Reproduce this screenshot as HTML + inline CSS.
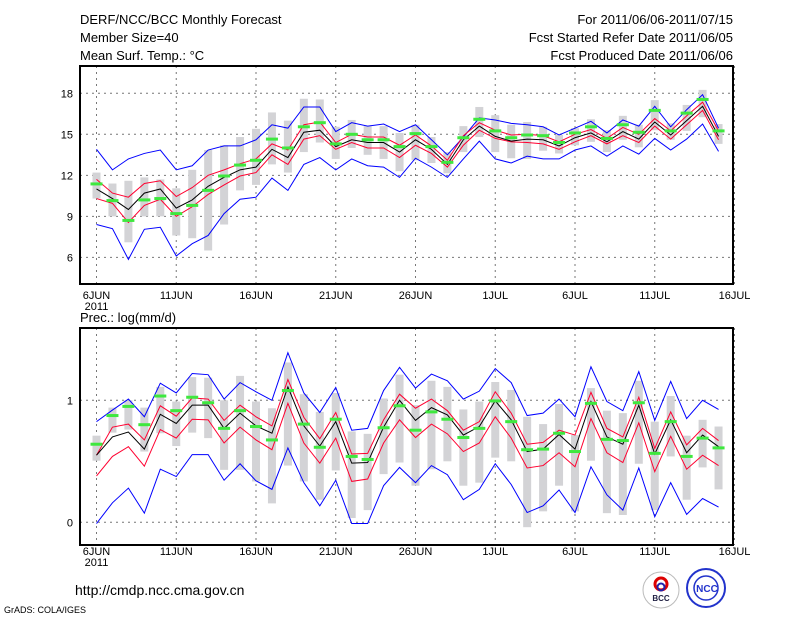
<!DOCTYPE html>
<html><head><meta charset="utf-8"><style>
html,body{margin:0;padding:0;background:#fff;}
svg{display:block;font-family:"Liberation Sans",sans-serif;}
</style></head><body>
<svg id="chart" width="800" height="618" viewBox="0 0 800 618">
<g font-size="13" fill="#000">
<text x="80" y="24">DERF/NCC/BCC Monthly Forecast</text>
<text x="80" y="42">Member Size=40</text>
<text x="80" y="60">Mean Surf. Temp.: °C</text>
<text x="733" y="24" text-anchor="end">For 2011/06/06-2011/07/15</text>
<text x="733" y="42" text-anchor="end">Fcst Started Refer Date 2011/06/05</text>
<text x="733" y="60" text-anchor="end">Fcst Produced Date 2011/06/06</text>
<text x="80" y="322">Prec.: log(mm/d)</text>
<text x="75" y="595" font-size="14">http://cmdp.ncc.cma.gov.cn</text>
<text x="4" y="613" font-size="9">GrADS: COLA/IGES</text>
</g>
<g>
<circle cx="661" cy="590" r="18" fill="#fff" stroke="#bbb" stroke-width="1"/>
<circle cx="661" cy="584" r="6" fill="none" stroke="#d00" stroke-width="3"/>
<circle cx="661" cy="587" r="3.5" fill="none" stroke="#22a" stroke-width="2"/>
<text x="661" y="601" font-size="8" font-weight="bold" text-anchor="middle" fill="#224">BCC</text>
</g>
<g>
<circle cx="706" cy="588" r="19" fill="#fff" stroke="#23c" stroke-width="2"/>
<circle cx="706" cy="588" r="12" fill="none" stroke="#23c" stroke-width="1.5"/>
<text x="707" y="592" font-size="10" font-weight="bold" text-anchor="middle" fill="#23c">NCC</text>
</g>
<g id="plots"></g>
</svg>
<script>
const days = ["6JUN","11JUN","16JUN","21JUN","26JUN","1JUL","6JUL","11JUL","16JUL"];
const tTicks = [18,15,12,9,6];
const tBlueHi = [13.9,12.4,13.2,13.6,13.85,12.4,12.7,13.85,14.15,14.15,14.6,15.7,15.45,17.0,17.0,15.2,15.85,15.6,15.75,15.2,15.7,14.6,13.5,14.8,16.2,16.05,15.8,15.7,15.55,14.95,15.45,15.95,15.1,16.05,15.6,17.05,15.55,16.8,17.9,15.45];
const tBlueLo = [8.4,8.1,5.85,8.05,8.2,6.1,7.0,7.6,9.2,10.25,10.4,11.8,10.9,12.8,13.3,12.4,13.2,12.7,12.6,11.85,13.25,12.6,11.85,13.2,14.5,13.2,12.9,13.4,13.2,13.2,13.85,14.15,13.4,14.15,13.55,14.7,13.85,14.65,15.75,13.75];
const tRedHi = [11.7,10.7,10.4,11.4,11.6,10.45,11.1,12.0,12.4,12.85,13.2,14.3,13.85,15.7,15.9,14.4,15.0,14.8,14.8,14.2,14.95,14.15,13.1,14.9,15.85,15.3,14.95,15.0,14.9,14.45,15.0,15.35,14.7,15.5,15.0,16.15,15.25,16.35,17.35,15.25];
const tRedLo = [10.3,9.95,8.55,9.8,10.25,9.0,9.7,10.6,11.3,11.95,12.2,13.5,12.8,14.65,14.9,13.9,14.4,14.0,14.0,13.3,14.2,13.6,12.6,14.2,15.3,14.7,14.45,14.4,14.3,13.9,14.45,14.9,14.3,14.9,14.4,15.6,14.65,15.7,16.75,14.6];
const tMean = [11.0,10.3,9.5,10.7,11.0,9.6,10.2,11.2,11.85,12.4,12.6,13.9,13.3,15.15,15.3,14.1,14.6,14.4,14.4,13.7,14.6,13.9,12.8,14.6,15.6,14.85,14.5,14.65,14.6,14.15,14.75,15.1,14.45,15.2,14.65,15.9,14.95,16.0,17.05,14.85];
const tObs = [11.37,10.15,8.7,10.2,10.3,9.2,9.8,10.9,11.95,12.75,13.1,14.65,14.0,15.55,15.85,14.3,15.0,14.6,14.6,14.1,15.05,14.1,12.95,14.75,16.1,15.25,14.75,14.95,14.9,14.4,15.1,15.55,14.7,15.7,15.15,16.75,15.25,16.55,17.55,15.25];
const tBarHi = [12.2,11.4,11.6,11.85,11.7,11.05,12.4,13.85,14.2,14.8,15.4,16.6,16.0,17.6,17.55,15.55,16.05,15.6,15.6,15.1,15.7,14.8,13.7,15.6,17.0,16.4,15.7,15.9,15.55,14.95,15.45,16.1,15.3,16.35,15.7,17.5,15.8,17.15,18.25,15.75];
const tBarLo = [10.3,9.0,7.1,9.0,9.0,7.6,7.4,6.5,8.4,10.9,11.3,12.8,12.2,13.7,14.4,13.2,14.0,13.5,13.2,12.3,13.1,12.9,12.15,13.7,14.8,13.7,13.25,13.2,13.8,13.6,14.2,14.45,13.7,14.6,14.05,15.3,14.6,15.25,16.25,14.3];
const pTicks = [1,0];
const pBlueHi = [0.825,0.92,1.01,0.865,1.14,1.06,1.22,1.21,1.01,1.145,1.07,1.0,1.39,1.06,0.9,1.105,0.755,0.77,1.08,1.27,1.1,1.215,1.16,1.01,1.075,1.26,1.145,0.875,0.895,1.01,0.865,1.275,0.99,0.915,1.235,0.835,1.155,0.85,1.0,0.925];
const pBlueLo = [-0.01,0.16,0.28,0.075,0.435,0.375,0.555,0.555,0.345,0.48,0.34,0.27,0.61,0.325,0.135,0.345,-0.01,-0.01,0.30,0.45,0.325,0.465,0.39,0.185,0.27,0.48,0.31,0.08,0.135,0.265,0.08,0.455,0.225,0.10,0.445,0.045,0.325,0.065,0.195,0.125];
const pRedHi = [0.55,0.78,0.805,0.675,0.955,0.87,1.02,1.01,0.835,0.96,0.865,0.79,1.17,0.86,0.685,0.9,0.56,0.565,0.84,1.05,0.935,1.01,0.915,0.755,0.825,1.07,0.895,0.64,0.655,0.755,0.715,1.065,0.77,0.70,1.025,0.605,0.905,0.635,0.77,0.67];
const pRedLo = [0.38,0.54,0.62,0.46,0.76,0.69,0.845,0.84,0.65,0.78,0.675,0.595,0.975,0.65,0.485,0.69,0.335,0.355,0.65,0.84,0.695,0.805,0.725,0.58,0.65,0.865,0.69,0.445,0.465,0.57,0.455,0.85,0.57,0.49,0.815,0.415,0.705,0.435,0.55,0.465];
const pMean = [0.55,0.70,0.74,0.60,0.885,0.81,0.96,0.96,0.77,0.895,0.79,0.73,1.11,0.79,0.625,0.825,0.485,0.49,0.78,1.0,0.835,0.94,0.88,0.715,0.785,0.995,0.84,0.58,0.60,0.72,0.60,0.99,0.70,0.64,0.96,0.56,0.84,0.57,0.715,0.62];
const pObs = [0.64,0.875,0.95,0.80,1.035,0.915,1.025,0.98,0.77,0.915,0.785,0.675,1.08,0.805,0.615,0.845,0.54,0.515,0.775,0.955,0.755,0.905,0.845,0.695,0.77,0.995,0.825,0.595,0.60,0.73,0.58,0.975,0.68,0.67,0.98,0.565,0.825,0.54,0.69,0.61];
const pBarHi = [0.71,0.94,1.0,0.94,1.11,0.99,1.19,1.185,1.0,1.2,0.99,0.935,1.31,1.05,0.905,1.06,0.745,0.725,1.015,1.21,0.96,1.16,1.11,0.925,0.99,1.15,1.085,0.865,0.805,0.97,0.715,1.1,0.915,0.895,1.16,0.825,1.035,0.71,0.84,0.785];
const pBarLo = [0.505,0.735,0.76,0.58,0.73,0.625,0.735,0.69,0.43,0.43,0.335,0.155,0.465,0.335,0.185,0.425,0.035,0.10,0.395,0.49,0.30,0.435,0.50,0.30,0.325,0.53,0.50,-0.04,0.09,0.30,0.09,0.505,0.075,0.06,0.48,0.10,0.54,0.185,0.45,0.27];

const NS='http://www.w3.org/2000/svg';
const root=document.getElementById('plots');
const X0=96.5, DX=15.95, PL=80, PR=733;
function xAt(i){return X0+i*DX;}
function mk(tag,attrs,parent){const e=document.createElementNS(NS,tag);for(const k in attrs)e.setAttribute(k,attrs[k]);(parent||root).appendChild(e);return e;}

function panel(name,top,bottom,yf,ticks,bhi,blo,rhi,rlo,mean,obs,barhi,barlo,labY){
  const g=mk('g',{});
  
  
  for(let k=0;k<days.length;k++){
    const x=xAt(k*5);
    const l=mk('line',{x1:x,x2:x,y1:top,y2:bottom,stroke:'#777','stroke-dasharray':'2,4','stroke-width':1},g);
    
    
    const t=mk('text',{x:x,y:labY,'font-size':11,'text-anchor':'middle'},g);
    
    
    t.textContent=days[k];
  }
  const yr=mk('text',{x:xAt(0),y:labY+11,'font-size':11,'text-anchor':'middle'},g);
  
  
  yr.textContent='2011';
  ticks.forEach(v=>{
    const y=yf(v);
    const l=mk('line',{x1:PL,x2:PR,y1:y,y2:y,stroke:'#777','stroke-dasharray':'2,4','stroke-width':1},g);
    
    
    const t=mk('text',{x:PL-7,y:y+4,'font-size':11,'text-anchor':'end'},g);
    
    
    t.textContent=String(v);
  });
  for(let i=0;i<mean.length;i++){
    const y1=yf(barhi[i]),y2=yf(barlo[i]);
    const r=mk('rect',{x:xAt(i)-4,y:y1,width:8,height:y2-y1,fill:'#d3d3d6'},g);
    
    
  }
  function line(arr,color,nm,w){
    const p=mk('polyline',{points:arr.map((v,i)=>xAt(i)+','+yf(v)).join(' '),fill:'none',stroke:color,'stroke-width':w||1},g);
    
    
  }
  line(bhi,'#0000ff','max-line');line(blo,'#0000ff','min-line');
  line(rhi,'#ff0030','upper-spread-line');line(rlo,'#ff0030','lower-spread-line');
  line(mean,'#000','ensemble-mean-line');
  for(let i=0;i<obs.length;i++){
    const r=mk('rect',{x:xAt(i)-6,y:yf(obs[i])-1.5,width:12,height:3,fill:'#3ee83e'},g);
    
    
  }
  const f=mk('rect',{x:PL,y:top,width:PR-PL,height:bottom-top,fill:'none',stroke:'#000','stroke-width':2},g);
  
  
}
panel('temperature',66,284,v=>93.3+(18-v)*13.67,tTicks,tBlueHi,tBlueLo,tRedHi,tRedLo,tMean,tObs,tBarHi,tBarLo,299);
panel('precipitation',328,545,v=>522.3-v*122,pTicks,pBlueHi,pBlueLo,pRedHi,pRedLo,pMean,pObs,pBarHi,pBarLo,555);
</script>
</body></html>
